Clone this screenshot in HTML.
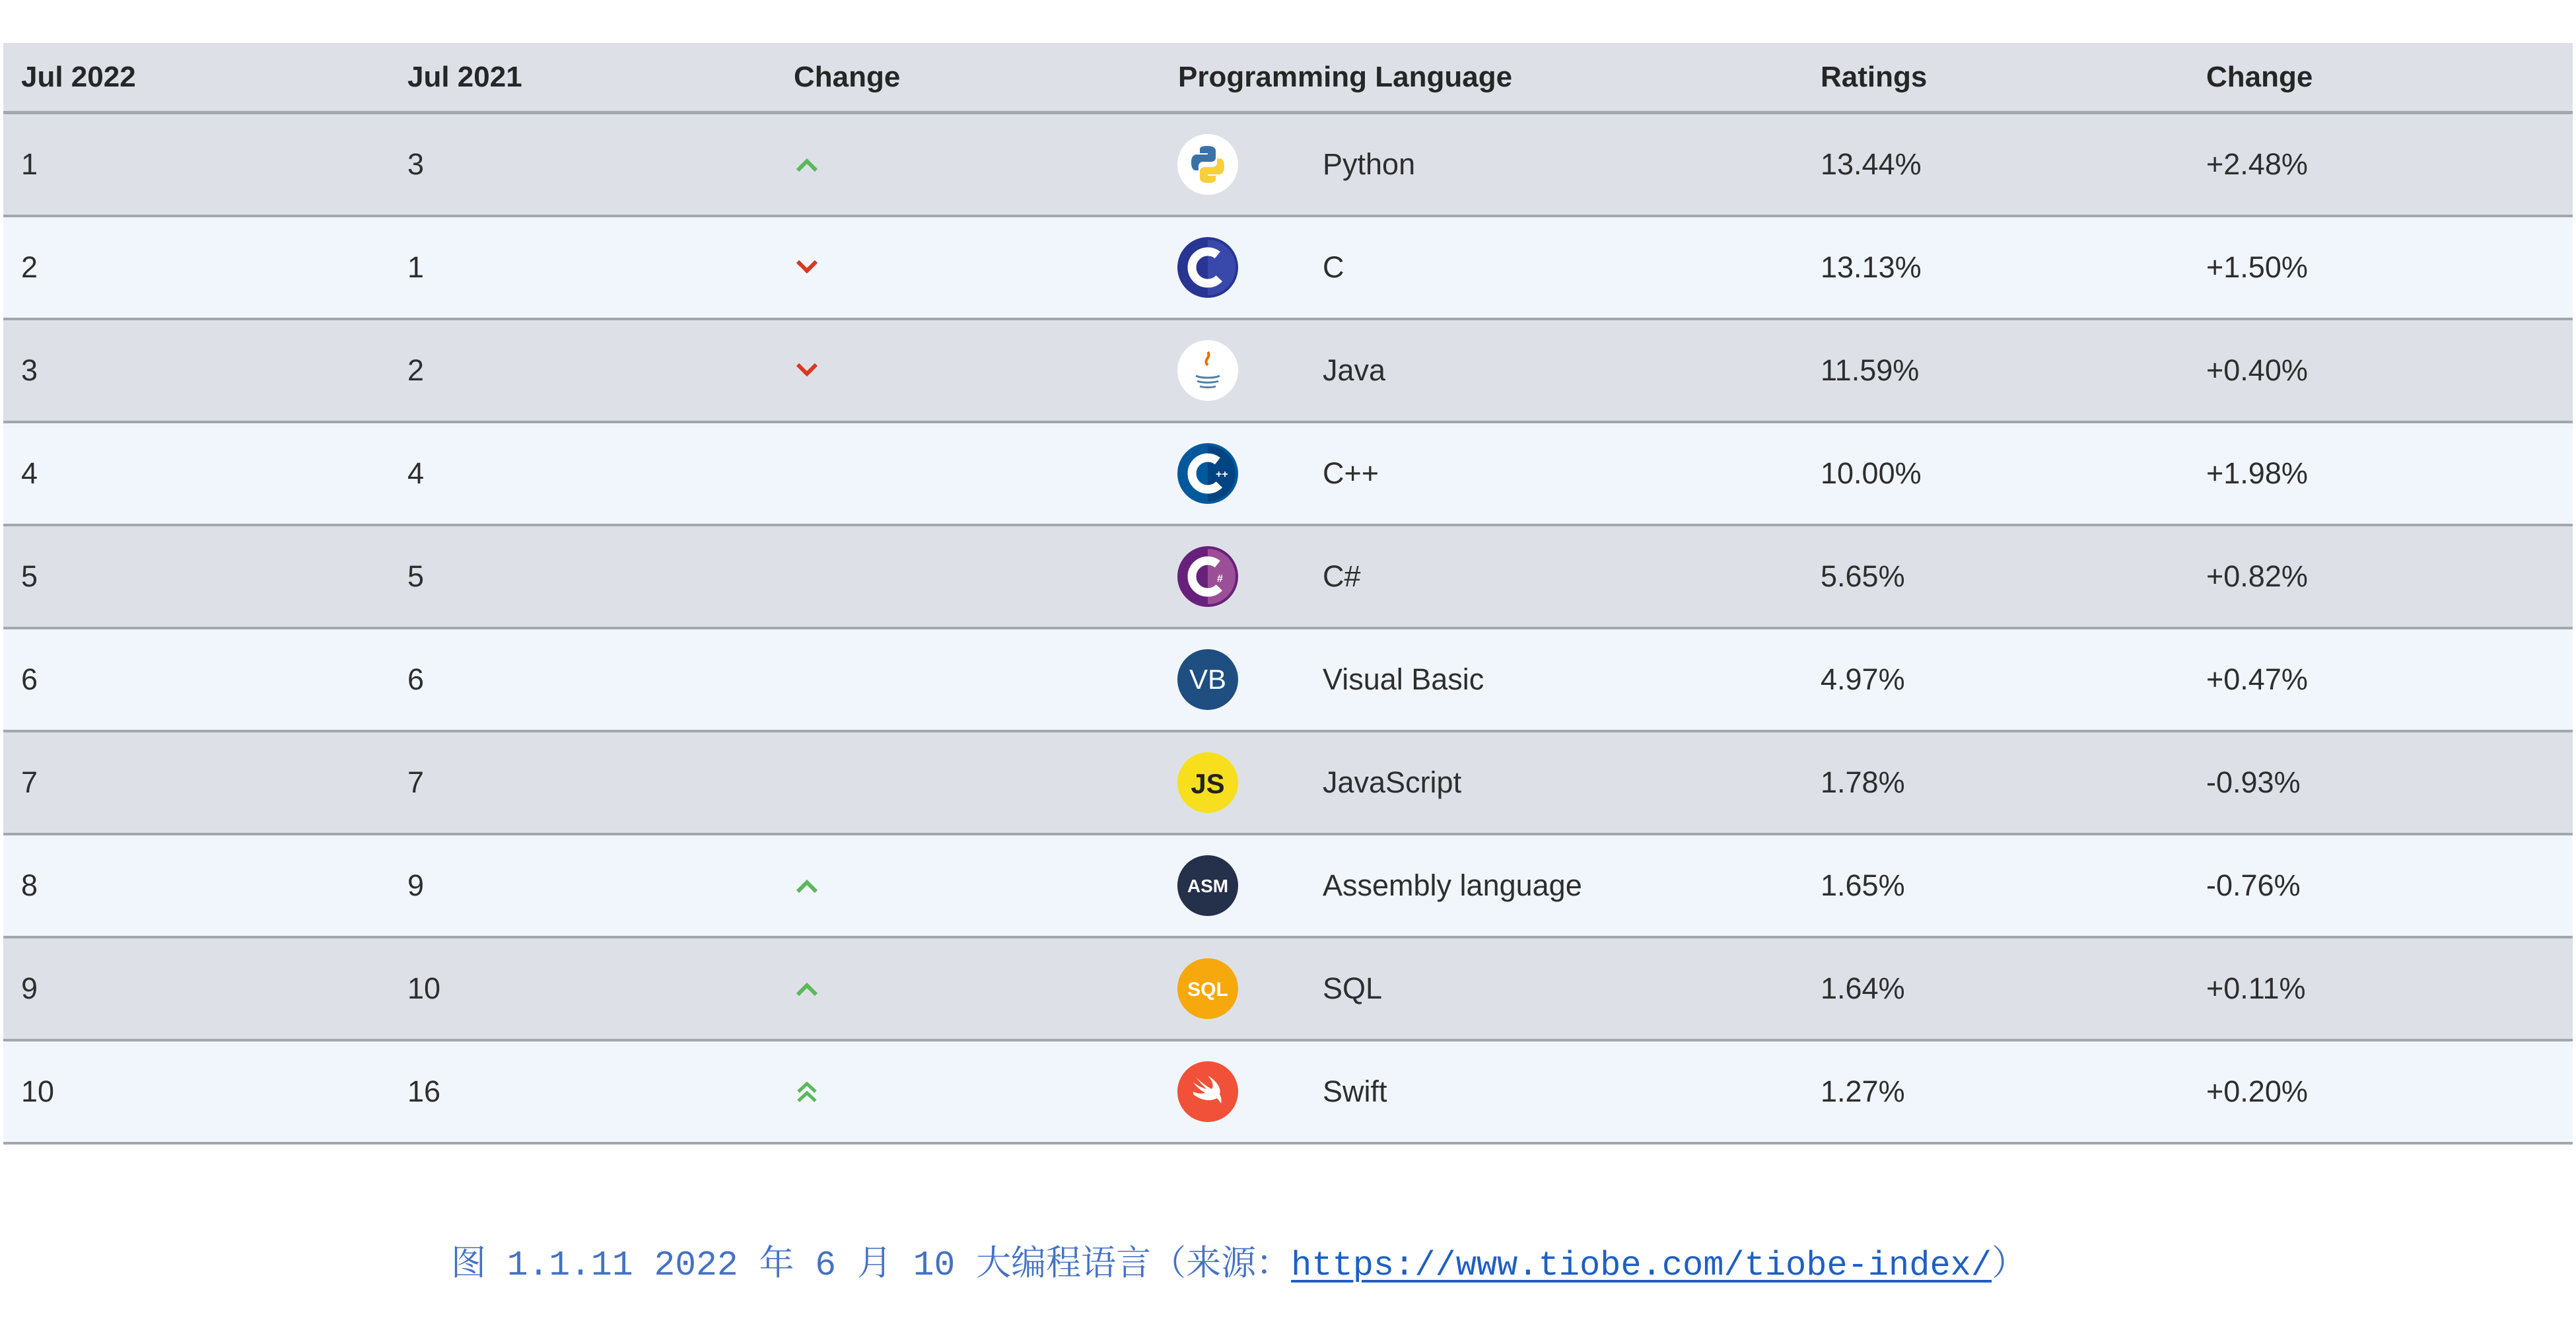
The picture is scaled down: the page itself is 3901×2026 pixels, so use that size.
<!DOCTYPE html>
<html><head><meta charset="utf-8">
<style>
html,body{margin:0;padding:0;background:#fff;}
body{width:3901px;height:2026px;position:relative;overflow:hidden;font-family:"Liberation Sans",sans-serif;color:#2e2e2e;}
#tbl{position:absolute;left:5px;top:65px;width:3891px;}
.hdr{position:absolute;left:0;top:0;width:3891px;height:103px;background:#dde1e7;border-bottom:5px solid #a3a8ae;}
.row{position:absolute;left:0;width:3891px;height:152px;border-bottom:4px solid #a3a8ae;}
.cell{position:absolute;top:0;height:100%;display:flex;align-items:center;font-size:45px;white-space:nowrap;}
.hdr .cell{font-weight:bold;font-size:44px;color:#262626;}
.icon{position:absolute;width:92px;height:92px;border-radius:50%;left:1778px;top:30px;}
#caption{position:absolute;left:683px;top:1870px;font-family:"Liberation Mono","Noto Serif CJK SC",monospace;font-size:53px;color:#4472c4;white-space:pre;}
#caption a{font-family:"Liberation Mono",monospace;font-size:52px;color:#1f5fc4;text-decoration:underline;text-decoration-thickness:4px;text-underline-offset:8px;}
</style></head><body>
<div id="tbl">
  <div class="hdr">
    <div class="cell" style="left:27px">Jul 2022</div>
    <div class="cell" style="left:612px">Jul 2021</div>
    <div class="cell" style="left:1197px">Change</div>
    <div class="cell" style="left:1779px">Programming Language</div>
    <div class="cell" style="left:2752px">Ratings</div>
    <div class="cell" style="left:3336px">Change</div>
  </div>
</div>
<div id="caption">图 1.1.11 2022 年 6 月 10 大编程语言（来源：<a>https://www.tiobe.com/tiobe-index/</a>）</div>
<script>
const rank2022=[1,2,3,4,5,6,7,8,9,10];
const rank2021=[3,1,2,4,5,6,7,9,10,16];
const languages=["Python","C","Java","C++","C#","Visual Basic","JavaScript","Assembly language","SQL","Swift"];
const ratings=["13.44%","13.13%","11.59%","10.00%","5.65%","4.97%","1.78%","1.65%","1.64%","1.27%"];
const changes=["+2.48%","+1.50%","+0.40%","+1.98%","+0.82%","+0.47%","-0.93%","-0.76%","+0.11%","+0.20%"];
const iconSvg={
"Python":'<svg width="92" height="92" viewBox="0 0 92 92"><circle cx="46" cy="46" r="46" fill="#fff"/><path d="M45 18c-12 0-11 5-11 5v6h12v2H29s-8-1-8 12 7 12 7 12h4v-6s0-7 7-7h12s7 0 7-6V25s1-7-13-7z" fill="#3a72a8"/><path d="M47 74c12 0 11-5 11-5v-6H46v-2h17s8 1 8-12-7-12-7-12h-4v6s0 7-7 7H41s-7 0-7 6v11s-1 7 13 7z" fill="#f7cf3b"/></svg>',
"C":'<svg width="92" height="92" viewBox="0 0 92 92"><circle cx="46" cy="46" r="46" fill="#283593"/><path d="M46 4a42 42 0 0 1 0 84z" fill="#3949ab"/><circle cx="46" cy="46" r="24" fill="none" stroke="#fff" stroke-width="13" stroke-dasharray="110 40" transform="rotate(45 46 46)"/></svg>',
"Java":'<svg width="92" height="92" viewBox="0 0 92 92"><circle cx="46" cy="46" r="46" fill="#fff"/><path d="M46 18c6 8-8 12 0 20" stroke="#e76f00" stroke-width="4" fill="none"/><path d="M28 54c8 4 28 4 36 0M30 62c8 3 24 3 32 0M34 70c6 2 18 2 24 0" stroke="#5382a1" stroke-width="3" fill="none"/></svg>',
"C++":'<svg width="92" height="92" viewBox="0 0 92 92"><circle cx="46" cy="46" r="46" fill="#00599c"/><path d="M46 4a42 42 0 0 1 0 84z" fill="#004482"/><circle cx="46" cy="46" r="24" fill="none" stroke="#fff" stroke-width="13" stroke-dasharray="110 40" transform="rotate(45 46 46)"/><text x="58" y="52" font-size="16" fill="#fff" font-family="Liberation Sans" font-weight="bold">++</text></svg>',
"C#":'<svg width="92" height="92" viewBox="0 0 92 92"><circle cx="46" cy="46" r="46" fill="#68217a"/><path d="M46 4a42 42 0 0 1 0 84z" fill="#9b4f96"/><circle cx="46" cy="46" r="24" fill="none" stroke="#fff" stroke-width="13" stroke-dasharray="110 40" transform="rotate(45 46 46)"/><text x="60" y="54" font-size="16" fill="#fff" font-family="Liberation Sans" font-weight="bold">#</text></svg>',
"Visual Basic":'<svg width="92" height="92" viewBox="0 0 92 92"><circle cx="46" cy="46" r="46" fill="#1f4e80"/><text x="46" y="60" font-size="42" fill="#fff" text-anchor="middle" font-family="Liberation Sans">VB</text></svg>',
"JavaScript":'<svg width="92" height="92" viewBox="0 0 92 92"><circle cx="46" cy="46" r="46" fill="#f7df1e"/><text x="46" y="62" font-size="42" fill="#222" text-anchor="middle" font-weight="bold" font-family="Liberation Sans">JS</text></svg>',
"Assembly language":'<svg width="92" height="92" viewBox="0 0 92 92"><circle cx="46" cy="46" r="46" fill="#25304a"/><text x="46" y="56" font-size="28" fill="#fff" text-anchor="middle" font-weight="bold" font-family="Liberation Sans">ASM</text></svg>',
"SQL":'<svg width="92" height="92" viewBox="0 0 92 92"><circle cx="46" cy="46" r="46" fill="#f7a80d"/><text x="46" y="57" font-size="30" fill="#fff" text-anchor="middle" font-weight="bold" font-family="Liberation Sans">SQL</text></svg>',
"Swift":'<svg width="92" height="92" viewBox="0 0 92 92"><circle cx="46" cy="46" r="46" fill="#f05138"/><path d="M24 50c10 8 24 12 36 6 4 4 6 8 6 8 2-8-2-14-2-14 4-12-10-24-18-28 6 6 10 14 6 20-8-4-18-12-24-18 6 8 12 14 16 18-8-2-14-6-20-10 6 8 12 12 18 16-8 2-14 0-18-2z" fill="#fff"/></svg>'
};
const upSvg='<svg width="34" height="26" viewBox="0 0 34 26"><path d="M3 22L17 8l14 14" stroke="#5cb85c" stroke-width="6" fill="none"/></svg>';
const downSvg='<svg width="34" height="26" viewBox="0 0 34 26"><path d="M3 4l14 14L31 4" stroke="#d9391f" stroke-width="6" fill="none"/></svg>';
const dblSvg='<svg width="34" height="40" viewBox="0 0 34 40"><path d="M4 20L17 8l13 12M4 34l13-12 13 12" stroke="#5cb85c" stroke-width="5" fill="none"/></svg>';
const tbl=document.getElementById('tbl');
const rowTop=i=>108+i*156;
for(let i=0;i<rank2022.length;i++){
  const r=document.createElement('div');
  r.className='row';
  
  
  r.style.top=rowTop(i)+'px';
  r.style.background=i%2===0?'#dde1e7':'#f1f6fc';
  const mk=(left,html,name)=>{const c=document.createElement('div');c.className='cell';c.style.left=left+'px';c.innerHTML=html;
    
    
    r.appendChild(c);return c;};
  mk(27,rank2022[i],'rank-2022');
  mk(612,rank2021[i],'rank-2021');
  const d=rank2021[i]-rank2022[i];
  const arrow=d>=3?dblSvg:d>0?upSvg:d<0?downSvg:'';
  mk(1200,arrow,'change-arrow');
  const ic=document.createElement('div');ic.className='icon';ic.innerHTML=iconSvg[languages[i]];
  
  
  r.appendChild(ic);
  mk(1998,languages[i],'language-name');
  mk(2752,ratings[i],'rating');
  mk(3336,changes[i],'rating-change');
  tbl.appendChild(r);
}
</script>
</body></html>
